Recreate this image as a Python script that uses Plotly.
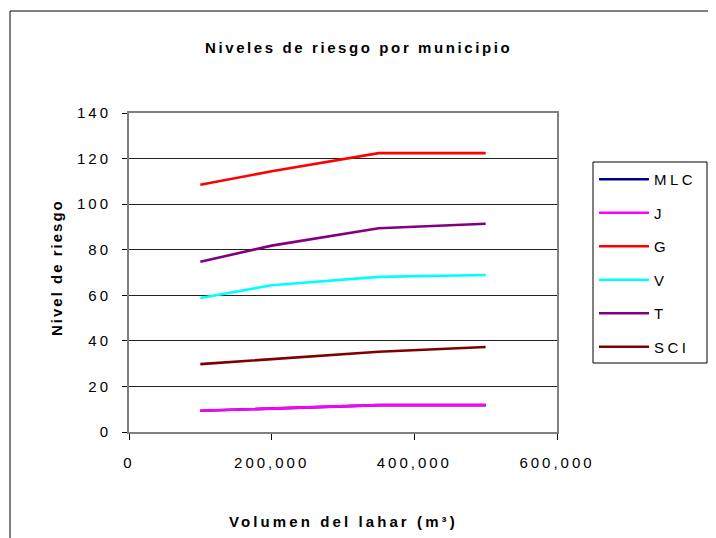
import plotly.graph_objects as go

# ---- data ----
volumen = [100000, 200000, 350000, 500000]
series_names = ["MLC", "J", "G", "V", "T", "SCI"]
mlc = [9.3, 10.4, 11.8, 11.8]
j = [9.3, 10.4, 11.8, 11.8]
g = [108.5, 114.4, 122.4, 122.4]
v = [58.8, 64.4, 68.1, 68.9]
t = [74.7, 81.8, 89.4, 91.4]
sci = [29.8, 31.9, 35.2, 37.3]
series_values = [mlc, j, g, v, t, sci]
series_colors = ["#000080", "#FF00FF", "#FF0000", "#00FFFF", "#800080", "#800000"]

x_tickvals = [0, 200000, 400000, 600000]
x_ticktext = ["0", "200,000", "400,000", "600,000"]
y_tickvals = [0, 20, 40, 60, 80, 100, 120, 140]
y_ticktext = ["0", "20", "40", "60", "80", "100", "120", "140"]

FONT = "Liberation Sans, Arial, sans-serif"


def sp(s, ls=3):
    return f"<span style='letter-spacing:{ls}px'>{s}</span>"


fig = go.Figure()
for name, vals, col in zip(series_names, series_values, series_colors):
    fig.add_trace(go.Scatter(
        x=volumen, y=vals, mode="lines", name=sp(name, 3.5),
        legendgroup=name,
        line=dict(color=col, width=2.6),
    ))

# page has an 8px body margin; work in page pixels and convert
O = 8
W, H = 716 - O, 538 - O
PL, PR, PT, PB = 129, 557, 113, 432  # plot area in page pixels
L, T = PL - O, PT - O
R, B = W - (PR - O), H - (PB - O)
pw, ph = PR - PL, PB - PT


def px_x(px):
    return (px - PL) / pw


def px_y(py):
    return (PB - py) / ph


fig.update_layout(
    width=W, height=H,
    margin=dict(l=L, r=R, t=T, b=B, autoexpand=False),
    paper_bgcolor="white", plot_bgcolor="white",
    font=dict(family=FONT, size=15, color="black"),
    showlegend=True,
    legend=dict(
        x=px_x(594), xanchor="left", y=px_y(163), yanchor="top",
        borderwidth=0, bgcolor="rgba(0,0,0,0)",
        font=dict(family=FONT, size=15, color="black"),
        traceorder="grouped", tracegroupgap=11,
        itemwidth=50,
    ),
    xaxis=dict(
        range=[0, 600000], tickvals=x_tickvals,
        ticktext=[sp(s) for s in x_ticktext],
        showgrid=False, zeroline=False,
        showline=True, linecolor="#808080", linewidth=2, mirror=True,
        ticks="outside", ticklen=6, tickcolor="black", tickwidth=1,
        ticklabelstandoff=10,
        tickfont=dict(family=FONT, size=15, color="black"),
        automargin=False,
    ),
    yaxis=dict(
        range=[0, 140], tickvals=y_tickvals,
        ticktext=[sp(s) for s in y_ticktext],
        showgrid=True, gridcolor="#222222", gridwidth=1,
        zeroline=False,
        showline=True, linecolor="#808080", linewidth=2, mirror=True,
        ticks="outside", ticklen=5, tickcolor="black", tickwidth=1,
        ticklabelstandoff=8,
        tickfont=dict(family=FONT, size=15, color="black"),
        automargin=False,
    ),
    annotations=[
        dict(text=sp("<b>Niveles de riesgo por municipio</b>", 2.6), x=px_x(358), y=px_y(47),
             xref="paper", yref="paper", showarrow=False, xanchor="center", yanchor="middle",
             font=dict(family=FONT, size=15, color="black")),
        dict(text=sp("<b>Volumen del lahar (m³)</b>", 3.1), x=px_x(343), y=px_y(521),
             xref="paper", yref="paper", showarrow=False, xanchor="center", yanchor="middle",
             font=dict(family=FONT, size=15, color="black")),
        dict(text=sp("<b>Nivel de riesgo</b>", 2.0), x=px_x(56), y=px_y(268), textangle=-90,
             xref="paper", yref="paper", showarrow=False, xanchor="center", yanchor="middle",
             font=dict(family=FONT, size=15, color="black")),
    ],
    shapes=[
        # chart-area frame
        dict(type="rect", xref="paper", yref="paper",
             x0=px_x(10), x1=px_x(730), y0=px_y(560), y1=px_y(11),
             line=dict(color="black", width=1), fillcolor="rgba(0,0,0,0)", layer="below"),
        # legend frame
        dict(type="rect", xref="paper", yref="paper",
             x0=px_x(593), x1=px_x(707), y0=px_y(363), y1=px_y(162),
             line=dict(color="black", width=1), fillcolor="white", layer="below"),
    ],
)

fig.write_html("out.html")
